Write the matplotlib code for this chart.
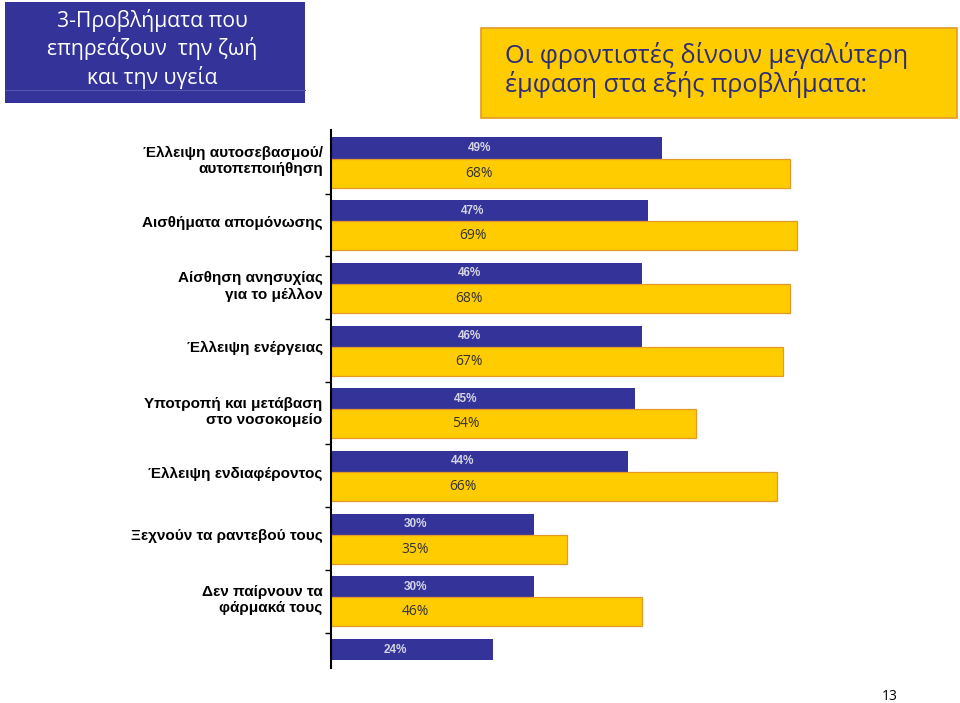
import numpy as np
import matplotlib
matplotlib.use("Agg")
import matplotlib.pyplot as plt
from matplotlib.patches import Rectangle

# data
labels = ["Έλλειψη αυτοσεβασμού/\nαυτοπεποιήθηση",
          "Αισθήματα απομόνωσης",
          "Αίσθηση ανησυχίας\nγια το μέλλον",
          "Έλλειψη ενέργειας",
          "Υποτροπή και μετάβαση\nστο νοσοκομείο",
          "Έλλειψη ενδιαφέροντος",
          "Ξεχνούν τα ραντεβού τους",
          "Δεν παίρνουν τα\nφάρμακά τους",
          ""]
blue_vals = [49, 47, 46, 46, 45, 44, 30, 30, 24]
yellow_vals = [68, 69, 68, 67, 54, 66, 35, 46, np.nan]

title_left = "3-Προβλήματα που\nεπηρεάζουν  την ζωή\nκαι την υγεία"
title_right = "Οι φροντιστές δίνουν μεγαλύτερη\nέμφαση στα εξής προβλήματα:"
page_no = "13"

BLUE = "#333399"
YELLOW = "#FFCC00"
ORANGE = "#E39A2A"

W, H = 960, 703
fig = plt.figure(figsize=(W / 100, H / 100), dpi=100)

def fx(px):
    return px / W

def fy(py):
    return 1 - py / H

# title boxes
fig.patches.append(Rectangle((fx(5), fy(103)), fx(300), 101 / H, transform=fig.transFigure,
                             facecolor=BLUE, edgecolor="none"))
fig.lines.append(plt.Line2D([fx(5), fx(305)], [fy(90), fy(90)], transform=fig.transFigure,
                            color="#5656b0", lw=0.8))
fig.text(fx(152), fy(49), title_left, ha="center", va="center", color="white",
         fontsize=15.2, family="Open Sans", linespacing=1.32)

fig.patches.append(Rectangle((fx(481), fy(118)), fx(476), 90 / H, transform=fig.transFigure,
                             facecolor=YELLOW, edgecolor=ORANGE, lw=1.2))
fig.text(fx(505), fy(70), title_right, ha="left", va="center", color="#2D2D7A",
         fontsize=18.2, family="Open Sans", linespacing=1.05)

fig.text(fx(890), fy(697), page_no, ha="center", va="center", fontsize=10,
         family="Open Sans", color="black")

# chart
x0, x1 = 331, 871
top, bot = 130, 668
ax = fig.add_axes([fx(x0), fy(bot), (x1 - x0) / W, (bot - top) / H])

n = len(blue_vals)
pos = np.arange(n)
bh, yh = 0.335, 0.463
blue_y = pos - bh / 2
yel_y = pos + yh / 2

ax.barh(blue_y, blue_vals, height=bh, color=BLUE, edgecolor="none", zorder=2)
ax.barh(yel_y, yellow_vals, height=yh, color=YELLOW, edgecolor=ORANGE, lw=0.9, zorder=2)

for i in range(n):
    tx = blue_vals[i] / 2 - 2.5
    ax.text(tx, blue_y[i], f"{blue_vals[i]}%", ha="center", va="center",
            color="#D4D4E4", fontsize=8.5, fontweight="bold", family="Liberation Sans", zorder=3)
    if not np.isnan(yellow_vals[i]):
        ax.text(tx, yel_y[i], f"{yellow_vals[i]:.0f}%", ha="center", va="center",
                color="#333333", fontsize=10, family="Open Sans", zorder=3)

ax.set_xlim(0, (x1 - x0) / 6.75)
ax.set_ylim((bot - 158.5) / 62.7, (top - 158.5) / 62.7)

ax.set_yticks(pos)
ax.set_yticklabels(labels, fontsize=11, fontweight="bold", family="Liberation Sans")
ax.set_yticks(pos[:-1] + 0.56, minor=True)
ax.tick_params(axis="y", which="major", length=0, pad=6)
ax.tick_params(axis="y", which="minor", length=4, width=1, color="black")
ax.set_xticks([])
for s in ["top", "right", "bottom"]:
    ax.spines[s].set_visible(False)
ax.spines["left"].set_linewidth(1.5)
ax.spines["left"].set_color("black")
ax.set_facecolor("none")

fig.savefig("out.png", dpi=100)
